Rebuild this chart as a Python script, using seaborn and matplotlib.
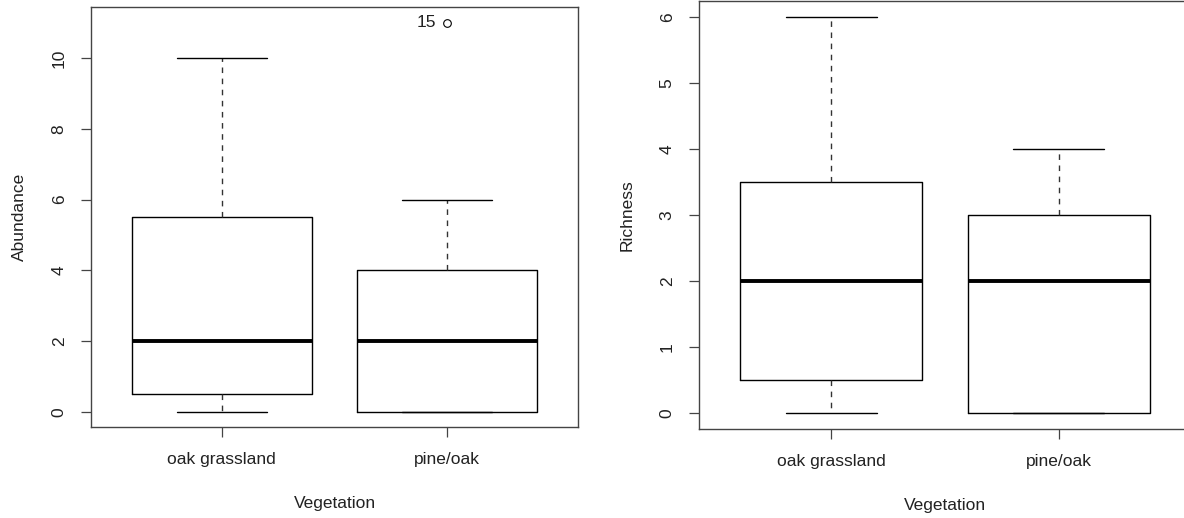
import matplotlib
matplotlib.use("Agg")
import matplotlib.pyplot as plt
import seaborn as sns

# ---- data: five-number summaries per vegetation type ----
groups = ["oak grassland", "pine/oak"]

abund_whislo = [0, 0]
abund_q1 = [0.5, 0]
abund_med = [2, 2]
abund_q3 = [5.5, 4]
abund_whishi = [10, 6]
abund_fliers = [[], [11]]
abund_flier_ids = [[], ["15"]]
abund_ticks = [0, 2, 4, 6, 8, 10]

rich_whislo = [0, 0]
rich_q1 = [0.5, 0]
rich_med = [2, 2]
rich_q3 = [3.5, 3]
rich_whishi = [6, 4]
rich_fliers = [[], []]
rich_ticks = [0, 1, 2, 3, 4, 5, 6]

sns.set_theme(style="white")
plt.rcParams["font.family"] = ["Liberation Sans", "DejaVu Sans"]

INK = "#222222"
FRAME = "#444444"
FS = 12.5

fig = plt.figure(figsize=(11.84, 5.18), dpi=100)
ax1 = fig.add_axes([91 / 1184, (518 - 427.3) / 518, 487 / 1184, 420.2 / 518])
ax2 = fig.add_axes([699 / 1184, (518 - 429.2) / 518, 492 / 1184, 428.0 / 518])


def make_stats(lo, q1, med, q3, hi, fliers):
    return [
        dict(whislo=a, q1=b, med=c, q3=d, whishi=e, fliers=f, label=g)
        for a, b, c, d, e, f, g in zip(lo, q1, med, q3, hi, fliers, groups)
    ]


def draw(ax, stats, ticks, ylim, ylabel, xlabelpad):
    positions = list(range(1, len(stats) + 1))
    ax.bxp(
        stats,
        positions=positions,
        widths=0.8,
        capwidths=0.4,
        showfliers=True,
        boxprops=dict(color="black", linewidth=1.0),
        whiskerprops=dict(color="#333333", linewidth=1.0, linestyle=(0, (4, 4))),
        capprops=dict(color="black", linewidth=1.0),
        medianprops=dict(color="black", linewidth=2.8, solid_capstyle="butt"),
        flierprops=dict(marker="o", markerfacecolor="none", markeredgecolor="black",
                        markersize=5.5, markeredgewidth=0.8),
    )
    ax.set_xlim(0.42, len(stats) + 0.58)
    ax.set_ylim(*ylim)
    ax.set_yticks(ticks)
    ax.set_yticklabels([str(t) for t in ticks], rotation=90, va="center")
    ax.set_xticks(positions)
    ax.set_xticklabels(groups)
    ax.tick_params(axis="both", direction="out", length=7.5, width=0.9,
                   color=FRAME, labelsize=FS, labelcolor=INK,
                   bottom=True, left=True, top=False, right=False)
    ax.tick_params(axis="x", pad=10.5)
    ax.tick_params(axis="y", pad=10)
    for s in ax.spines.values():
        s.set_visible(True)
        s.set_color(FRAME)
        s.set_linewidth(1.0)
    ax.set_xlabel("Vegetation", fontsize=FS, color=INK, labelpad=xlabelpad)
    ax.set_ylabel(ylabel, fontsize=FS, color=INK, labelpad=18)


draw(ax1, make_stats(abund_whislo, abund_q1, abund_med, abund_q3, abund_whishi, abund_fliers),
     abund_ticks, (-0.44, 11.44), "Abundance", 20.5)
draw(ax2, make_stats(rich_whislo, rich_q1, rich_med, rich_q3, rich_whishi, rich_fliers),
     rich_ticks, (-0.24, 6.24), "Richness", 21)

# label outlying observations with their row number
for i, (vals, ids) in enumerate(zip(abund_fliers, abund_flier_ids), start=1):
    for v, name in zip(vals, ids):
        ax1.annotate(name, (i, v), xytext=(-8, 0), textcoords="offset points",
                     ha="right", va="center", fontsize=FS, color=INK)

fig.savefig("out.png", dpi=100)
